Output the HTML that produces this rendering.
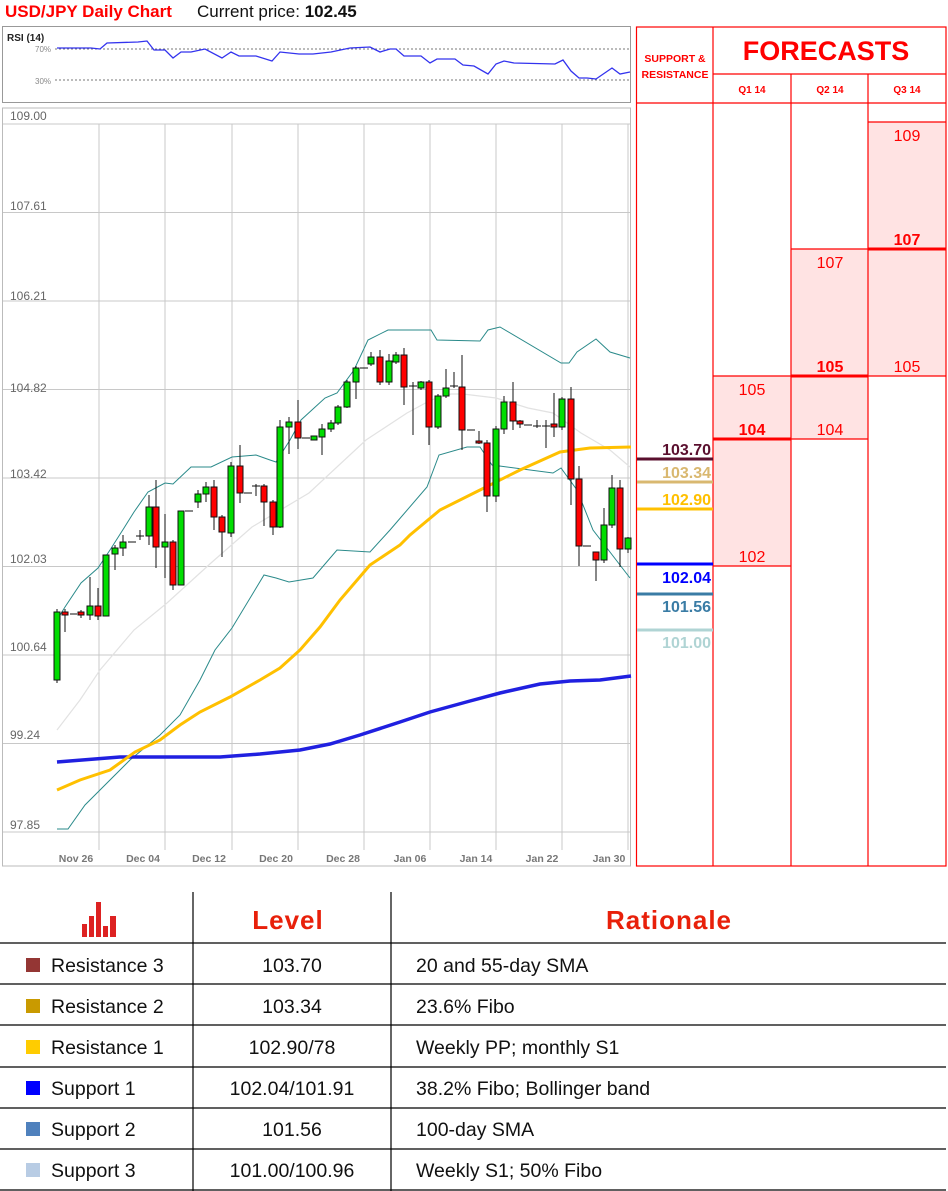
<!DOCTYPE html>
<html><head><meta charset="utf-8"><style>
body{margin:0;background:#fff;width:948px;height:1191px;overflow:hidden;font-family:"Liberation Sans",sans-serif}
svg{display:block}
</style></head><body>
<svg width="948" height="1191" viewBox="0 0 948 1191" xmlns="http://www.w3.org/2000/svg" font-family="Liberation Sans, sans-serif">
<text x="5" y="17" font-size="17" font-weight="bold" fill="#ff0000">USD/JPY Daily Chart</text>
<text x="197" y="17" font-size="17" fill="#111">Current price: <tspan font-weight="bold">102.45</tspan></text>
<!-- RSI -->
<rect x="2.5" y="26.5" width="628" height="76" fill="#fff" stroke="#999"/>
<text x="7" y="41" font-size="10" font-weight="bold" fill="#222">RSI (14)</text>
<line x1="55" y1="49" x2="630" y2="49" stroke="#777" stroke-dasharray="2,2"/>
<line x1="55" y1="80" x2="630" y2="80" stroke="#777" stroke-dasharray="2,2"/>
<text x="35" y="52" font-size="8" fill="#888">70%</text>
<text x="35" y="84" font-size="8" fill="#888">30%</text>
<polyline fill="none" stroke="#3333ee" stroke-width="1.3" points="57,48 91,48 100,49 107,43 138,42 147,41 154,50 165,50 173,58 181,52 191,52 205,49 222,58 231,52 239,56 256,56 272,61 280,52 299,54 313,54 331,52 350,48 370,47 380,52 390,49 396,49 404,56 421,56 430,63 437,59 455,59 463,65 474,66 488,74 496,64 504,61 514,63 555,64 563,60 571,71 579,78 587,78 596,79 612,68 620,74 630,72"/>
<!-- main chart -->
<rect x="2.5" y="108" width="628" height="758" fill="#fff" stroke="#bbb"/>
<g stroke="#c8c8c8" stroke-width="1">
<line x1="3" y1="124" x2="630" y2="124"/><line x1="3" y1="212.5" x2="630" y2="212.5"/><line x1="3" y1="301" x2="630" y2="301"/><line x1="3" y1="389.5" x2="630" y2="389.5"/><line x1="3" y1="478" x2="630" y2="478"/><line x1="3" y1="566.5" x2="630" y2="566.5"/><line x1="3" y1="655" x2="630" y2="655"/><line x1="3" y1="743.5" x2="630" y2="743.5"/><line x1="3" y1="832" x2="630" y2="832"/>
<line x1="99" y1="124" x2="99" y2="850"/><line x1="165" y1="124" x2="165" y2="850"/><line x1="232" y1="124" x2="232" y2="850"/><line x1="298" y1="124" x2="298" y2="850"/><line x1="364" y1="124" x2="364" y2="850"/><line x1="430" y1="124" x2="430" y2="850"/><line x1="496" y1="124" x2="496" y2="850"/><line x1="562" y1="124" x2="562" y2="850"/><line x1="628" y1="124" x2="628" y2="850"/>
</g>
<g font-size="12" fill="#666">
<text x="10" y="120">109.00</text><text x="10" y="210">107.61</text><text x="10" y="300">106.21</text><text x="10" y="392">104.82</text><text x="10" y="478">103.42</text><text x="10" y="563">102.03</text><text x="10" y="651">100.64</text><text x="10" y="739">99.24</text><text x="10" y="829">97.85</text>
</g>
<g font-size="10.5" font-weight="bold" fill="#777" text-anchor="middle">
<text x="76" y="862">Nov 26</text><text x="143" y="862">Dec 04</text><text x="209" y="862">Dec 12</text><text x="276" y="862">Dec 20</text><text x="343" y="862">Dec 28</text><text x="410" y="862">Jan 06</text><text x="476" y="862">Jan 14</text><text x="542" y="862">Jan 22</text><text x="609" y="862">Jan 30</text>
</g>
<!-- middle band -->
<polyline fill="none" stroke="#e2e2e2" stroke-width="1.2" points="57,730 80,700 100,670 134,630 167,603 211,563 252,527 309,493 366,440 407,413 431,400 451,394 463,394 496,398 528,408 553,413 581,433 610,450 630,467"/>
<!-- bollinger -->
<polyline fill="none" stroke="#2a8a8a" stroke-width="1" points="57,620 65,607 81,583 98,568 110,550 124,528 134,512 148,492 165,483 173,484 191,467 211,467 232,457 256,455 270,460 276,462 290,440 301,420 325,398 337,393 354,370 368,340 388,330 431,330 437,340 480,341 488,330 500,327 561,363 569,363 577,352 596,339 610,352 630,358"/>
<polyline fill="none" stroke="#2a8a8a" stroke-width="1" points="57,829 68,829 85,805 100,790 130,760 160,735 180,715 200,680 215,650 232,628 264,575 276,578 289,582 313,578 337,550 370,552 390,530 427,487 439,455 467,447 480,447 492,465 553,473 561,468 577,490 593,530 630,578"/>
<!-- SMAs -->
<polyline fill="none" stroke="#2020e0" stroke-width="3.5" points="57,762 120,757 220,757 260,754 300,750 330,744 360,735 400,722 430,712 470,701 500,693 540,684 570,681 600,680 631,676"/>
<polyline fill="none" stroke="#ffc000" stroke-width="3" points="57,790 80,780 110,770 135,752 160,740 180,725 200,712 230,697 260,680 280,668 300,650 320,627 340,600 370,565 400,545 410,535 440,510 480,490 520,470 560,452 590,448 631,447"/>
<!-- candles -->
<g stroke="#111" stroke-width="1">
<line x1="57" y1="609" x2="57" y2="683"/><rect x="54" y="612" width="6" height="68" fill="#00dd00"/>
<line x1="65" y1="609" x2="65" y2="632"/><rect x="62" y="612" width="6" height="3" fill="#ff0000"/>
<line x1="70" y1="614" x2="77" y2="614"/>
<line x1="81" y1="610" x2="81" y2="618"/><rect x="78" y="612" width="6" height="3" fill="#ff0000"/>
<line x1="90" y1="577" x2="90" y2="620"/><rect x="87" y="606" width="6" height="9" fill="#00dd00"/>
<line x1="98" y1="588" x2="98" y2="620"/><rect x="95" y="606" width="6" height="10" fill="#ff0000"/>
<rect x="103" y="555" width="6" height="61" fill="#00dd00"/>
<line x1="115" y1="545" x2="115" y2="570"/><rect x="112" y="548" width="6" height="6" fill="#00dd00"/>
<line x1="123" y1="535" x2="123" y2="556"/><rect x="120" y="542" width="6" height="6" fill="#00dd00"/>
<line x1="128" y1="542" x2="136" y2="542"/>
<line x1="140" y1="530" x2="140" y2="540"/><line x1="136" y1="536" x2="144" y2="536"/>
<line x1="149" y1="495" x2="149" y2="545"/><rect x="146" y="507" width="6" height="29" fill="#00dd00"/>
<line x1="156" y1="480" x2="156" y2="568"/><rect x="153" y="507" width="6" height="40" fill="#ff0000"/>
<line x1="165" y1="514" x2="165" y2="578"/><rect x="162" y="542" width="6" height="5" fill="#00dd00"/>
<line x1="173" y1="540" x2="173" y2="590"/><rect x="170" y="542" width="6" height="43" fill="#ff0000"/>
<rect x="178" y="511" width="6" height="74" fill="#00dd00"/>
<line x1="185" y1="511" x2="193" y2="511"/>
<line x1="198" y1="490" x2="198" y2="508"/><rect x="195" y="494" width="6" height="8" fill="#00dd00"/>
<line x1="206" y1="482" x2="206" y2="502"/><rect x="203" y="487" width="6" height="7" fill="#00dd00"/>
<line x1="214" y1="480" x2="214" y2="530"/><rect x="211" y="487" width="6" height="30" fill="#ff0000"/>
<line x1="222" y1="515" x2="222" y2="557"/><rect x="219" y="517" width="6" height="15" fill="#ff0000"/>
<line x1="231" y1="462" x2="231" y2="537"/><rect x="228" y="466" width="6" height="67" fill="#00dd00"/>
<line x1="240" y1="445" x2="240" y2="503"/><rect x="237" y="466" width="6" height="27" fill="#ff0000"/>
<line x1="244" y1="493" x2="252" y2="493"/>
<line x1="256" y1="484" x2="256" y2="496"/><line x1="252" y1="486" x2="260" y2="486"/>
<line x1="264" y1="484" x2="264" y2="526"/><rect x="261" y="486" width="6" height="16" fill="#ff0000"/>
<line x1="273" y1="500" x2="273" y2="535"/><rect x="270" y="502" width="6" height="25" fill="#ff0000"/>
<line x1="280" y1="420" x2="280" y2="528"/><rect x="277" y="427" width="6" height="100" fill="#00dd00"/>
<line x1="289" y1="417" x2="289" y2="454"/><rect x="286" y="422" width="6" height="5" fill="#00dd00"/>
<line x1="298" y1="400" x2="298" y2="449"/><rect x="295" y="422" width="6" height="16" fill="#ff0000"/>
<line x1="302" y1="438" x2="310" y2="438"/>
<rect x="311" y="436" width="6" height="4" fill="#00dd00"/>
<line x1="322" y1="424" x2="322" y2="455"/><rect x="319" y="429" width="6" height="8" fill="#00dd00"/>
<line x1="331" y1="420" x2="331" y2="432"/><rect x="328" y="423" width="6" height="6" fill="#00dd00"/>
<line x1="338" y1="405" x2="338" y2="425"/><rect x="335" y="407" width="6" height="16" fill="#00dd00"/>
<line x1="347" y1="380" x2="347" y2="408"/><rect x="344" y="382" width="6" height="25" fill="#00dd00"/>
<line x1="356" y1="366" x2="356" y2="399"/><rect x="353" y="368" width="6" height="14" fill="#00dd00"/>
<line x1="360" y1="368" x2="368" y2="368"/>
<line x1="371" y1="352" x2="371" y2="366"/><rect x="368" y="357" width="6" height="7" fill="#00dd00"/>
<line x1="380" y1="350" x2="380" y2="385"/><rect x="377" y="357" width="6" height="25" fill="#ff0000"/>
<line x1="389" y1="354" x2="389" y2="385"/><rect x="386" y="361" width="6" height="21" fill="#00dd00"/>
<line x1="396" y1="352" x2="396" y2="364"/><rect x="393" y="355" width="6" height="7" fill="#00dd00"/>
<line x1="404" y1="348" x2="404" y2="405"/><rect x="401" y="355" width="6" height="32" fill="#ff0000"/>
<line x1="413" y1="382" x2="413" y2="435"/><line x1="409" y1="386" x2="417" y2="386"/>
<line x1="421" y1="381" x2="421" y2="390"/><rect x="418" y="382" width="6" height="6" fill="#00dd00"/>
<line x1="429" y1="380" x2="429" y2="445"/><rect x="426" y="382" width="6" height="45" fill="#ff0000"/>
<line x1="438" y1="394" x2="438" y2="429"/><rect x="435" y="396" width="6" height="31" fill="#00dd00"/>
<line x1="446" y1="369" x2="446" y2="398"/><rect x="443" y="388" width="6" height="8" fill="#00dd00"/>
<line x1="454" y1="372" x2="454" y2="388"/><line x1="450" y1="386" x2="458" y2="386"/>
<line x1="462" y1="355" x2="462" y2="450"/><rect x="459" y="387" width="6" height="43" fill="#ff0000"/>
<line x1="467" y1="430" x2="475" y2="430"/>
<line x1="479" y1="431" x2="479" y2="444"/><rect x="476" y="441" width="6" height="2" fill="#ff0000"/>
<line x1="487" y1="440" x2="487" y2="512"/><rect x="484" y="443" width="6" height="53" fill="#ff0000"/>
<line x1="496" y1="426" x2="496" y2="502"/><rect x="493" y="429" width="6" height="67" fill="#00dd00"/>
<line x1="504" y1="396" x2="504" y2="434"/><rect x="501" y="402" width="6" height="27" fill="#00dd00"/>
<line x1="513" y1="382" x2="513" y2="430"/><rect x="510" y="402" width="6" height="19" fill="#ff0000"/>
<line x1="520" y1="420" x2="520" y2="428"/><rect x="517" y="421" width="6" height="3" fill="#ff0000"/>
<line x1="524" y1="425" x2="532" y2="425"/>
<line x1="537" y1="420" x2="537" y2="428"/><line x1="533" y1="426" x2="541" y2="426"/>
<line x1="546" y1="420" x2="546" y2="448"/><line x1="542" y1="426" x2="550" y2="426"/>
<line x1="554" y1="393" x2="554" y2="437"/><rect x="551" y="424" width="6" height="3" fill="#ff0000"/>
<line x1="562" y1="397" x2="562" y2="430"/><rect x="559" y="399" width="6" height="28" fill="#00dd00"/>
<line x1="571" y1="387" x2="571" y2="505"/><rect x="568" y="399" width="6" height="80" fill="#ff0000"/>
<line x1="579" y1="466" x2="579" y2="566"/><rect x="576" y="479" width="6" height="67" fill="#ff0000"/>
<line x1="583" y1="546" x2="591" y2="546"/>
<line x1="596" y1="552" x2="596" y2="581"/><rect x="593" y="552" width="6" height="8" fill="#ff0000"/>
<line x1="604" y1="508" x2="604" y2="563"/><rect x="601" y="525" width="6" height="35" fill="#00dd00"/>
<line x1="612" y1="475" x2="612" y2="528"/><rect x="609" y="488" width="6" height="37" fill="#00dd00"/>
<line x1="620" y1="480" x2="620" y2="567"/><rect x="617" y="488" width="6" height="61" fill="#ff0000"/>
<line x1="628" y1="537" x2="628" y2="553"/><rect x="625" y="538" width="6" height="11" fill="#00dd00"/>
</g>
<!-- right panel -->
<rect x="713" y="122" width="155" height="0" fill="none"/>
<rect x="868" y="122" width="78" height="254" fill="#ffe3e3"/>
<rect x="791" y="249" width="77" height="190" fill="#ffe3e3"/>
<rect x="713" y="376" width="78" height="190" fill="#ffe3e3"/>
<g stroke="#ff0000" stroke-width="1.2" fill="none">
<rect x="636.5" y="27" width="309.5" height="839"/>
<line x1="713" y1="27" x2="713" y2="866"/>
<line x1="791" y1="74" x2="791" y2="866"/>
<line x1="868" y1="74" x2="868" y2="866"/>
<line x1="713" y1="74" x2="946" y2="74"/>
<line x1="636" y1="103" x2="946" y2="103"/>
<line x1="868" y1="122" x2="946" y2="122"/>
<line x1="791" y1="249" x2="868" y2="249"/>
<line x1="713" y1="376" x2="791" y2="376"/>
<line x1="868" y1="376" x2="946" y2="376"/>
<line x1="791" y1="439" x2="868" y2="439"/>
<line x1="713" y1="566" x2="791" y2="566"/>
</g>
<g stroke="#ff0000" stroke-width="3">
<line x1="868" y1="249" x2="946" y2="249"/>
<line x1="791" y1="376" x2="868" y2="376"/>
<line x1="713" y1="439" x2="791" y2="439"/>
</g>
<g fill="#ff0000" text-anchor="middle">
<text x="675" y="62" font-size="10.5" font-weight="bold">SUPPORT &amp;</text>
<text x="675" y="78" font-size="10.5" font-weight="bold">RESISTANCE</text>
<text x="826" y="60" font-size="27" font-weight="bold">FORECASTS</text>
<text x="752" y="93" font-size="10" font-weight="bold">Q1 14</text>
<text x="830" y="93" font-size="10" font-weight="bold">Q2 14</text>
<text x="907" y="93" font-size="10" font-weight="bold">Q3 14</text>
<g font-size="16">
<text x="907" y="141">109</text><text x="907" y="245" font-weight="bold">107</text><text x="907" y="372">105</text>
<text x="830" y="268">107</text><text x="830" y="372" font-weight="bold">105</text><text x="830" y="435">104</text>
<text x="752" y="395">105</text><text x="752" y="435" font-weight="bold">104</text><text x="752" y="562">102</text>
</g>
</g>
<g stroke-width="3">
<line x1="637" y1="459" x2="713" y2="459" stroke="#5a0f2e"/>
<line x1="637" y1="482" x2="713" y2="482" stroke="#d9b870"/>
<line x1="637" y1="509" x2="713" y2="509" stroke="#ffc000"/>
<line x1="637" y1="564" x2="713" y2="564" stroke="#0000ff"/>
<line x1="637" y1="594" x2="713" y2="594" stroke="#3a7ca5"/>
<line x1="637" y1="630" x2="713" y2="630" stroke="#b0d4d4"/>
</g>
<g font-size="16" font-weight="bold" text-anchor="end">
<text x="711" y="455" fill="#5a0f2e">103.70</text>
<text x="711" y="478" fill="#d9b870">103.34</text>
<text x="711" y="505" fill="#ffc000">102.90</text>
<text x="711" y="583" fill="#0000ff">102.04</text>
<text x="711" y="612" fill="#3a7ca5">101.56</text>
<text x="711" y="648" fill="#b0d4d4">101.00</text>
</g>
<!-- table -->
<g fill="#dd2222">
<rect x="82" y="924" width="5" height="13"/><rect x="89" y="916" width="5" height="21"/><rect x="96" y="902" width="5" height="35"/><rect x="103" y="926" width="5" height="11"/><rect x="110" y="916" width="6" height="21"/>
</g>
<g stroke="#000" stroke-width="1.2">
<line x1="193" y1="892" x2="193" y2="1191"/><line x1="391" y1="892" x2="391" y2="1191"/>
<line x1="0" y1="943" x2="946" y2="943"/><line x1="0" y1="984" x2="946" y2="984"/><line x1="0" y1="1025" x2="946" y2="1025"/><line x1="0" y1="1067" x2="946" y2="1067"/><line x1="0" y1="1108" x2="946" y2="1108"/><line x1="0" y1="1149" x2="946" y2="1149"/><line x1="0" y1="1190" x2="946" y2="1190"/>
</g>
<text x="288" y="929" font-size="26" font-weight="bold" fill="#e8200a" text-anchor="middle" letter-spacing="1">Level</text>
<text x="669" y="929" font-size="26" font-weight="bold" fill="#e8200a" text-anchor="middle" letter-spacing="1">Rationale</text>
<rect x="26" y="958" width="14" height="14" fill="#943634"/>
<rect x="26" y="999" width="14" height="14" fill="#c99a00"/>
<rect x="26" y="1040" width="14" height="14" fill="#ffcc00"/>
<rect x="26" y="1081" width="14" height="14" fill="#0000ff"/>
<rect x="26" y="1122" width="14" height="14" fill="#4f81bd"/>
<rect x="26" y="1163" width="14" height="14" fill="#b8cce4"/>
<g font-size="19.5" fill="#111">
<text x="51" y="972">Resistance 3</text><text x="51" y="1013">Resistance 2</text><text x="51" y="1054">Resistance 1</text><text x="51" y="1095">Support 1</text><text x="51" y="1136">Support 2</text><text x="51" y="1177">Support 3</text>
<g text-anchor="middle">
<text x="292" y="972">103.70</text><text x="292" y="1013">103.34</text><text x="292" y="1054">102.90/78</text><text x="292" y="1095">102.04/101.91</text><text x="292" y="1136">101.56</text><text x="292" y="1177">101.00/100.96</text>
</g>
<text x="416" y="972">20 and 55-day SMA</text><text x="416" y="1013">23.6% Fibo</text><text x="416" y="1054">Weekly PP; monthly S1</text><text x="416" y="1095">38.2% Fibo; Bollinger band</text><text x="416" y="1136">100-day SMA</text><text x="416" y="1177">Weekly S1; 50% Fibo</text>
</g>
</svg>
</body></html>
